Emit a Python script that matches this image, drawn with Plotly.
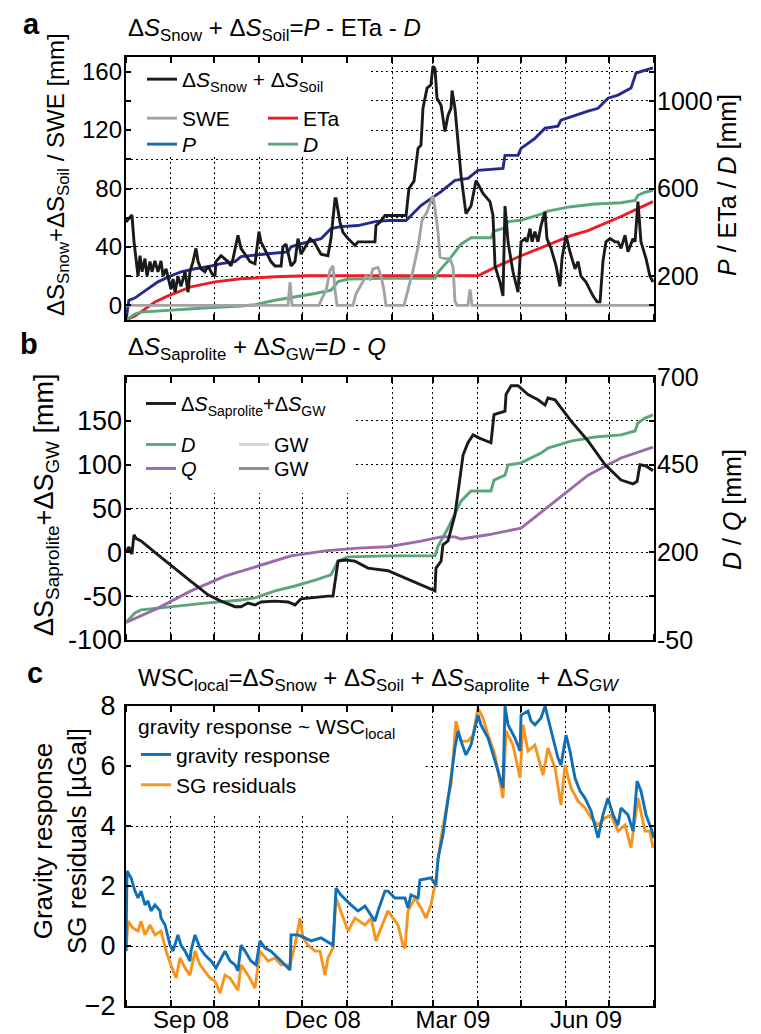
import pandas as pd
import plotly.graph_objects as go

BASE = pd.Timestamp("2008-08-01")
END = pd.Timestamp("2009-08-01")

# ---------------- data (day offsets from 1 Aug 2008) ----------------
# Panel a, left axis [mm]
dss_day = [0, 1.4, 4.1, 5.5, 6.9, 8.3, 9.7, 11.1, 13.1, 14.5,
           16.6, 18, 20, 22.1, 24.2, 25.6, 27.7, 31.1, 32.5, 33.9,
           35.9, 38, 40.8, 42.9, 44.2, 46.3, 48.4, 49.8, 51.8, 54.6,
           56.7, 59.5, 61.5, 62.2, 65.7, 68.4, 70.5, 72.6, 74, 77.4,
           79.5, 83, 85.7, 89.2, 91.9, 93.3, 96.8, 100.2, 103, 105.1,
           107.2, 108.5, 110.6, 114.1, 116.8, 118.9, 121, 127.2, 130, 134.8,
           139.6, 141.7, 144.5, 145.2, 147.9, 150, 153.5, 158.3, 160.4, 172.1,
           172.8, 175.6, 179, 181.1, 193.6, 195.6, 199.1, 201.9, 203.9, 205.3,
           208.1, 210.8, 212.2, 213.6, 215, 217.8, 220.5, 222.6, 224.7, 225.4,
           227.4, 229.5, 231.6, 235, 238.5, 242, 246.8, 251.6, 253.7, 255.1,
           258.5, 260.6, 262, 264.1, 267.5, 271, 273.1, 275.8, 277.2, 279.3,
           280.7, 282.7, 284.8, 286.9, 289.7, 291, 293.8, 297.3, 300, 301.4,
           304.2, 306.9, 310.4, 312.5, 314.5, 318, 322.8, 325.6, 327.7, 329.7,
           331.8, 334.6, 338, 340.1, 342.2, 345, 347, 350.5, 351.9, 353.9,
           356, 359.5, 362.2, 364.3]
dss_val = [57, 59, 62, 44, 30, 20, 34, 23, 32, 20,
           30, 23, 30.5, 23, 30.5, 20, 25, 11, 18, 9,
           20, 13, 23, 9, 23, 30, 39, 30, 25, 23,
           27, 21.6, 20, 30, 34, 32, 30, 27, 32, 48,
           39, 34, 30, 28.5, 50.5, 43.5, 36.7, 30, 27, 27,
           27, 40, 42, 27, 30, 45.7, 35, 45.7, 43.5, 35,
           34, 45.7, 73, 73, 57, 50, 45.7, 41, 43.5, 43.5,
           54.6, 57, 61.5, 61.5, 61.5, 80, 85, 107.5, 109.6, 135,
           148.7, 151, 163.8, 162, 141.8, 137, 119, 130, 135, 147,
           135, 112, 89, 62.8, 68, 85.5, 76.6, 71, 61.5, 27,
           16, 6.5, 68, 43.5, 23, 9, 43.5, 45.7, 43.5, 52.5,
           43.5, 50.5, 43.5, 54.6, 64, 45.7, 39, 27, 13, 32,
           48, 36.7, 25, 30, 20, 16, 6.5, 2.4, 2.4, 30,
           43.5, 45.7, 43.5, 43.5, 39, 48, 36.7, 45.7, 43.5, 71,
           43.5, 32, 20, 16]

swe_day = [0, 112, 113.4, 114.8, 133.4, 135.5, 138.3, 141, 143.1, 144.5,
           145.9, 156.9, 159, 162.5, 165.9, 168.7, 170.7, 174.2, 176.3, 178.4,
           179.7, 192.2, 194.9, 198.4, 201.9, 204.6, 208.1, 210.8, 212.2, 213.6,
           215.7, 217.1, 220.5, 224, 226.1, 227.4, 228.8, 236.4, 237.8, 239.2,
           365]
swe_val = [0, 0, 16, 0, 0, 5, 10, 24, 27, 10,
           0, 0, 8, 14, 20, 18, 25, 26, 20, 10,
           0, 0, 10, 24, 40, 58, 64, 72, 75, 66,
           50, 33, 32, 32, 26, 3, 0, 0, 11, 0,
           0]

# Panel a, right axis [mm]
p_day = [0, 2, 6, 15.2, 22.1, 31.1, 38, 47.7, 56.7, 65.7,
         75.4, 79.5, 89.2, 98.2, 112, 114.1, 121, 134.8, 141.7, 148.6,
         160.4, 172.1, 181.1, 193.6, 199.8, 203.9, 210.8, 217.8, 227.4, 236.4,
         243.3, 260.6, 262, 271, 273.1, 282.7, 289.7, 298.6, 300.7, 310.4,
         319.4, 326.3, 333.2, 340.1, 349.1, 352.6, 358.8, 364.3]
p_val = [0, 90, 100, 142, 174, 202, 220, 234, 243, 257,
         266, 289, 294, 302, 311, 334, 348, 371, 417, 426,
         431, 449, 454, 454, 495, 522, 554, 586, 637, 646,
         683, 692, 751, 751, 783, 829, 875, 884, 912, 934,
         953, 966, 1012, 1026, 1058, 1127, 1141, 1150]

eta_day = [0, 6.2, 10.4, 20, 29, 44.9, 61.5, 79.5, 103, 125.8,
           243.3, 257.2, 273.1, 284.8, 296.6, 307.6, 319.4, 331.1, 342.2, 353.9,
           364.3]
eta_val = [0, 18, 37, 82, 110, 151, 174, 188, 197, 202,
           202, 247, 293, 325, 357, 385, 408, 440, 472, 508,
           540]

d_day = [0, 6.2, 10.4, 33.9, 56.7, 79.5, 89.2, 103, 116.8, 130.7,
         141.7, 146.6, 153.5, 181.1, 213.6, 215.7, 222.6, 231.6, 238.5, 252.3,
         254.4, 262, 264.1, 273.1, 286.9, 291.7, 307.6, 324.2, 342.2, 351.9,
         353.9, 358.8, 364.3]
d_val = [0, 27, 36, 47, 56, 64, 70, 90, 104, 121,
         136, 175, 187, 190, 190, 218, 269, 346, 375, 375,
         406, 420, 449, 455, 483, 497, 517, 529, 535, 546,
         569, 583, 592]

# Panel b
q_day = [0, 22.1, 44.9, 68.4, 91.3, 114.1, 137.6, 160.4, 181.1, 203.9,
         217.8, 227.4, 231.6, 250.3, 273.1, 296.6, 319.4, 342.2, 364.3]
q_val = [0, 41, 90, 132, 161, 190, 204, 212, 216, 232,
         244, 244, 238, 250, 269, 346, 420, 469, 500]

dsg_day = [0, 2, 4.1, 5.5, 6.9, 10.4, 22.1, 33.9, 44.9, 56.7,
           65.7, 75.4, 79.5, 84.3, 89.2, 93.3, 103, 112, 116.8, 121,
           130.7, 139.6, 143.1, 145.2, 146.6, 151.4, 158.3, 167.3, 181.1, 213.6,
           214.3, 217.8, 219.1, 222.6, 227.4, 230.9, 233, 236.4, 239.9, 244.7,
           252.3, 254.4, 262, 262.7, 266.2, 271, 277.9, 284.8, 289.7, 291.7,
           296.6, 307.6, 319.4, 331.1, 342.2, 350.5, 353.3, 355.3, 359.5, 364.3]
dsg_val = [0, 6, -2, 20, 16, 13, -3, -18, -33, -48.5,
           -55.6, -62, -62, -57.8, -60, -56.6, -55.6, -56.6, -60, -53,
           -51, -50, -50, -26, -10, -8.7, -10, -18, -21, -44,
           -18, -10, 8.6, 13, 43, 85, 111, 125, 134, 130,
           125, 157, 161, 180, 190, 190, 180, 174, 168, 176,
           174, 150, 127, 100, 82.5, 78, 81, 100, 98.5, 93]

# Panel c [µGal]
grav_day = [0, 0.7, 3.5, 6.2, 8.3, 10.4, 13.1, 15.2, 17.3, 20,
            23.5, 24.2, 27, 30.4, 32.5, 35.9, 38, 40.8, 44.2, 44.9,
            47.7, 51.2, 54.6, 58.8, 62.2, 65.7, 68.4, 71.9, 75.4, 77.4,
            79.5, 82.3, 86.4, 89.9, 92.6, 96.1, 100.2, 105.1, 109.9, 113.4,
            114.1, 118.9, 123.7, 127.9, 134.8, 138.3, 143.1, 145.2, 148.6, 155.5,
            160.4, 165.2, 169.4, 172.1, 174.2, 179, 181.1, 186, 192.9, 194.9,
            197, 201.9, 203.2, 210.8, 214.3, 215.7, 219.1, 221.2, 224.7, 227.4,
            229.5, 231.6, 235, 238.5, 243.3, 245.4, 250.3, 255.1, 260.6, 262,
            264.1, 268.9, 272.4, 273.1, 277.9, 280, 282.7, 286.9, 289.7, 291.7,
            295.2, 298.6, 300.7, 304.2, 306.9, 310.4, 313.8, 317.3, 321.5, 326.3,
            329.7, 333.2, 336.7, 340.1, 342.2, 347, 350.5, 353.3, 356, 359.5,
            362.9, 365]
grav_val = [-0.17, 2.5, 2.27, 1.83, 1.6, 1.83, 1.37, 1.5, 1.17, 1.37,
            1.17, 0.93, 0.7, 0.03, -0.17, 0.37, 0.03, -0.17, -0.5, -0.17,
            0.37, -0.07, -0.3, -0.5, -0.73, -0.4, -0.17, -0.5, -0.63, -0.83,
            0.03, -0.17, -0.5, -0.63, 0.17, -0.07, -0.17, -0.4, -0.63, -0.8,
            0.37, 0.37, 0.27, 0.17, 0.27, 0.17, 0.03, 1.93, 1.7, 1.37,
            1.17, 1.33, 1.03, 0.83, 1.17, 1.83, 1.83, 1.6, 1.6, 1.27,
            1.7, 1.6, 2.2, 2.27, 2.03, 2.93, 3.7, 4.37, 5.6, 6.6,
            7.17, 6.83, 6.37, 6.7, 7.7, 7.37, 6.93, 6.17, 5.27, 8,
            7.37, 6.93, 6.5, 7.7, 7.83, 7.5, 7.37, 7.6, 8, 7.6,
            6.93, 6.27, 6.03, 7.03, 6.5, 5.6, 5.17, 4.93, 4.5, 3.6,
            4.37, 4.93, 4.37, 4.03, 4.6, 4.37, 3.83, 5.5, 5.17, 4.37,
            3.93, 3.6]

sg_day = [0, 1.4, 4.8, 8.3, 10.4, 13.1, 16.6, 20, 24.2, 27.7,
          31.1, 34.6, 37.3, 40.8, 44.2, 47.7, 51.2, 54.6, 58.1, 61.5,
          65, 68.4, 71.9, 77.4, 79.5, 84.3, 89.2, 92.6, 98.2, 103,
          107.2, 113.4, 116.8, 120.3, 122.4, 125.8, 130.7, 134.1, 137.6, 139.6,
          143.1, 145.2, 148.6, 153.5, 158.3, 165.2, 169.4, 172.8, 176.3, 181.1,
          184.6, 188, 191.5, 192.9, 194.9, 199.8, 203.9, 207.4, 210.8, 213.6,
          215.7, 217.8, 222.6, 224.7, 228.1, 231.6, 236.4, 239.9, 243.3, 246.8,
          250.3, 255.1, 260.6, 262.7, 267.5, 272.4, 274.4, 277.9, 282.7, 288.3,
          291.7, 296.6, 300.7, 303.5, 307.6, 312.5, 317.3, 321.5, 326.3, 331.1,
          335.3, 340.1, 345, 349.1, 353.9, 358.8, 362.2, 364.3]
sg_val = [-0.17, 0.83, 0.6, 0.5, 0.83, 0.37, 0.7, 0.37, 0.5, -0.17,
          -0.63, -1.07, -0.4, -0.73, -0.97, -0.17, -0.63, -0.83, -1.07, -1.17,
          -1.57, -0.97, -1.07, -1.47, -0.63, -0.97, -1.4, -0.17, -0.5, -0.4,
          -0.63, -0.63, 0.03, 0.93, 0.27, 0.03, -0.17, -0.17, -0.97, -0.4,
          -0.07, 1.6, 1.17, 0.5, 0.93, 0.7, 0.93, 0.17, 0.6, 1.17,
          0.93, 0.7, 0.03, -0.07, 1.17, 1.6, 1.27, 0.93, 1.37, 2.03,
          2.83, 3.6, 4.93, 5.37, 7.5, 6.83, 6.83, 7.03, 7.93, 7.6,
          7.03, 6.37, 4.93, 7.17, 6.7, 5.6, 7.37, 6.5, 6.7, 5.7,
          6.6, 5.93, 4.7, 6.03, 5.27, 4.83, 4.6, 4.27, 4.03, 4.27,
          4.37, 3.83, 4.03, 3.27, 4.93, 3.83, 3.83, 3.27]

# axis ticks
month_tick_dates = ["2008-09-15", "2008-12-15", "2009-03-15", "2009-06-15"]
month_tick_text = ["Sep 08", "Dec 08", "Mar 09", "Jun 09"]
a_left_ticks = [0, 20, 40, 60, 80, 100, 120, 140, 160]
a_left_text = ["0", "", "40", "", "80", "", "120", "", "160"]
a_right_ticks = [66.667, 200, 333.333, 466.667, 600, 733.333, 866.667, 1000, 1133.333]
a_right_text = ["", "200", "", "", "600", "", "", "1000", ""]
b_left_ticks = [-100, -50, 0, 50, 100, 150, 200]
b_left_text = ["-100", "-50", "0", "50", "100", "150", ""]
b_right_ticks = [-50, 75, 200, 325, 450, 575, 700]
b_right_text = ["-50", "", "200", "", "450", "", "700"]
c_ticks = [-2, 0, 2, 4, 6, 8]


def dates(days):
    return [(BASE + pd.Timedelta(days=float(d))).round("s") for d in days]


# ---------------- geometry helpers ----------------
W, H = 761, 1034
ML, MR, MT, MB = 118, 115, 49, 36
PW, PH = W - ML - MR, H - MT - MB
NDAYS = (END - BASE).days


def fx(px):
    return (px - ML) / PW


def fy(py):
    return (H - MB - py) / PH


FONT = "Liberation Sans, Arial, Helvetica, sans-serif"
BLACK = "#1a1a1a"
C_SWE = "#a3a3a3"
C_ETA = "#ed1c24"
C_P = "#262a8c"
C_P_LEG = "#1b6db5"
C_D = "#5ba67a"
C_Q = "#9a6aab"
C_GRAV = "#0f70b7"
C_SG = "#f7941d"
LW = 2.9

fig = go.Figure()


def line(days, vals, color, xa, ya, name, legend=None, **kw):
    return go.Scatter(x=dates(days) if days is not None else [None],
                      y=vals if vals is not None else [None],
                      mode="lines", line=dict(color=color, width=LW), xaxis=xa, yaxis=ya,
                      name=name, legend=legend or "legend", showlegend=legend is not None, **kw)


# panel a (base axis y = right scale, overlay y2 = left scale)
fig.add_trace(line(p_day, p_val, C_P, "x", "y", "P"))
fig.add_trace(line(eta_day, eta_val, C_ETA, "x", "y", "ETa", "legend4"))
fig.add_trace(line(d_day, d_val, C_D, "x", "y", "<i>D</i>", "legend5"))
fig.add_trace(line(swe_day, swe_val, C_SWE, "x", "y2", "SWE", "legend2"))
fig.add_trace(line(None, None, C_P_LEG, "x", "y2", "<i>P</i>", "legend3"))
fig.add_trace(line(dss_day, dss_val, BLACK, "x", "y2",
                   "Δ<i>S</i><sub>Snow</sub> + Δ<i>S</i><sub>Soil</sub>", "legend"))

# panel b (base y3 = right scale, overlay y4 = left scale)
fig.add_trace(line(d_day, d_val, C_D, "x2", "y3", "<i>D</i>", "legend7"))
fig.add_trace(line(q_day, q_val, C_Q, "x2", "y3", "<i>Q</i>", "legend8"))
fig.add_trace(line(None, None, "#d6d6ce", "x2", "y4", "GW", "legend9"))
fig.add_trace(line(None, None, "#8a8a8a", "x2", "y4", "GW", "legend10"))
fig.add_trace(line(dsg_day, dsg_val, BLACK, "x2", "y4",
                   "Δ<i>S</i><sub>Saprolite</sub>+Δ<i>S</i><sub>GW</sub>", "legend6"))

# panel c
fig.add_trace(line(sg_day, sg_val, C_SG, "x3", "y5", "SG residuals", "legend11", legendrank=2))
fig.add_trace(line(grav_day, grav_val, C_GRAV, "x3", "y5", "gravity response", "legend11", legendrank=1))

GRID = dict(showgrid=True, gridcolor="black", gridwidth=1, griddash="2px,3px")


def tf(size):
    return dict(family=FONT, size=size, color="black")


def xax(anchor, labels):
    return dict(
        anchor=anchor, domain=[0, 1], range=[BASE, END], type="date",
        tickmode="array", tickvals=month_tick_dates, ticktext=month_tick_text,
        ticks="", showgrid=False, showticklabels=labels,
        tickfont=tf(24), ticklabelstandoff=-9,
        minor=dict(dtick="M1", tick0="2008-08-01", ticks="inside", ticklen=6,
                   tickwidth=1.5, tickcolor="black", **GRID),
        showline=True, linewidth=2, linecolor="black", mirror="ticks",
        zeroline=False, automargin=False,
    )


dom_a = [fy(312), fy(49)]
dom_b = [fy(632), fy(369)]
dom_c = [fy(998), fy(698)]

layout = dict(
    width=W, height=H,
    margin=dict(l=ML, r=MR, t=MT, b=MB, autoexpand=False),
    paper_bgcolor="white", plot_bgcolor="white",
    font=dict(family=FONT, size=25, color="black"),
    xaxis=xax("y", False),
    xaxis2=xax("y3", False),
    xaxis3=xax("y5", True),
    yaxis=dict(domain=dom_a, side="right", range=[0, 1200], tickmode="array",
               tickvals=a_right_ticks, ticktext=a_right_text, ticks="inside", ticklen=5,
               tickwidth=1.5, tickcolor="black", showgrid=False, zeroline=False,
               showline=True, linewidth=2, linecolor="black", mirror=True,
               tickfont=tf(25), ticklabelstandoff=-4, automargin=False),
    yaxis2=dict(overlaying="y", side="left", anchor="x", range=[-10, 170], tickmode="array",
                tickvals=a_left_ticks, ticktext=a_left_text, ticks="inside", ticklen=5,
                tickwidth=1.5, tickcolor="black", zeroline=False, showline=False,
                tickfont=tf(24), ticklabelstandoff=3, automargin=False, **GRID),
    yaxis3=dict(domain=dom_b, side="right", anchor="x2", range=[-50, 700], tickmode="array",
                tickvals=b_right_ticks, ticktext=b_right_text, ticks="inside", ticklen=5,
                tickwidth=1.5, tickcolor="black", showgrid=False, zeroline=False,
                showline=True, linewidth=2, linecolor="black", mirror=True,
                tickfont=tf(25), ticklabelstandoff=-4, automargin=False),
    yaxis4=dict(overlaying="y3", side="left", anchor="x2", range=[-100, 200], tickmode="array",
                tickvals=b_left_ticks, ticktext=b_left_text, ticks="inside", ticklen=5,
                tickwidth=1.5, tickcolor="black", zeroline=False, showline=False,
                tickfont=tf(27), ticklabelstandoff=3, automargin=False, **GRID),
    yaxis5=dict(domain=dom_c, anchor="x3", range=[-2, 8], tickmode="array",
                tickvals=c_ticks, ticks="inside", ticklen=5,
                tickwidth=1.5, tickcolor="black", zeroline=False,
                showline=True, linewidth=2, linecolor="black", mirror="ticks",
                tickfont=tf(27), ticklabelstandoff=3, automargin=False, **GRID),
)

LEGF = tf(21)
LEGFB = tf(20)
CLEAR = "rgba(0,0,0,0)"


def leg(px, py, font, **kw):
    d = dict(x=fx(px), y=fy(py), xanchor="left", yanchor="top", bgcolor=CLEAR,
             borderwidth=0, font=font, orientation="v", tracegroupgap=0)
    d.update(kw)
    return d


# panel a legend (rows/columns as separate legends)
layout["legend"] = leg(134, 51, LEGF)
layout["legend2"] = leg(134, 90, LEGF)
layout["legend3"] = leg(134, 116, LEGF)
layout["legend4"] = leg(255, 90, LEGF)
layout["legend5"] = leg(255, 116, LEGF)
# panel b legend
layout["legend6"] = leg(133, 376, LEGFB)
layout["legend7"] = leg(133, 417, LEGFB)
layout["legend8"] = leg(133, 441, LEGFB)
layout["legend9"] = leg(226, 417, LEGFB)
layout["legend10"] = leg(226, 441, LEGFB)
# panel c legend
layout["legend11"] = leg(128, 699, LEGF,
                         title=dict(text="gravity response ~ WSC<sub>local</sub>", font=LEGF, side="top"))


# white legend backgrounds: hide gridlines but stay under the data lines
def px_to_date(px):
    return (BASE + pd.Timedelta(days=(px - ML) / PW * NDAYS)).round("s")


def px_to_val(py, top_px, bottom_px, vmin, vmax):
    return vmin + (bottom_px - py) / (bottom_px - top_px) * (vmax - vmin)


def legend_bg(xref, yref, x1px, bottom_px, top_px, panel_bottom, vmin, vmax):
    return dict(type="rect", layer="between", xref=xref, yref=yref,
                x0=BASE, x1=px_to_date(x1px),
                y0=px_to_val(bottom_px, top_px, panel_bottom, vmin, vmax), y1=vmax,
                fillcolor="white", line=dict(width=0))


layout["shapes"] = [
    legend_bg("x", "y", 363, 148, 49, 312, 0, 1200),
    legend_bg("x2", "y3", 348, 485, 369, 632, -50, 700),
    legend_bg("x3", "y5", 418, 805, 698, 998, -2, 8),
]

TITLEF = tf(24)
LETF = tf(29)


def ann(text, px, py, font, xanchor="center", angle=0):
    return dict(text=text, x=fx(px), y=fy(py), xref="paper", yref="paper", showarrow=False,
                xanchor=xanchor, yanchor="middle", textangle=angle, font=font)


layout["annotations"] = [
    ann("<b>a</b>", 23, 16, LETF),
    ann("<b>b</b>", 21, 336, LETF),
    ann("<b>c</b>", 27, 665, LETF),
    ann("Δ<i>S</i><sub>Snow</sub> + Δ<i>S</i><sub>Soil</sub>=<i>P</i> - ETa - <i>D</i>", 118, 22, TITLEF, "left"),
    ann("Δ<i>S</i><sub>Saprolite</sub> + Δ<i>S</i><sub>GW</sub>=<i>D</i> - <i>Q</i>", 118, 340, TITLEF, "left"),
    ann("WSC<sub>local</sub>=Δ<i>S</i><sub>Snow</sub> + Δ<i>S</i><sub>Soil</sub> + Δ<i>S</i><sub>Saprolite</sub> + Δ<i>S</i><sub><i>GW</i></sub>",
        128, 671, TITLEF, "left"),
    ann("ΔS<sub>Snow</sub>+ΔS<sub>Soil</sub> / SWE [mm]", 49, 167, tf(24), angle=-90),
    ann("<i>P</i> / ETa / <i>D</i> [mm]", 719, 177, tf(25), angle=-90),
    ann("ΔS<sub>Saprolite</sub>+ΔS<sub>GW</sub> [mm]", 38, 497, tf(27), angle=-90),
    ann("<i>D</i> / <i>Q</i> [mm]", 724, 502, tf(25), angle=-90),
    ann("Gravity response<br>SG residuals [µGal]", 52, 833, tf(26), angle=-90),
]

fig.update_layout(**layout)
fig.write_html("out.html")
